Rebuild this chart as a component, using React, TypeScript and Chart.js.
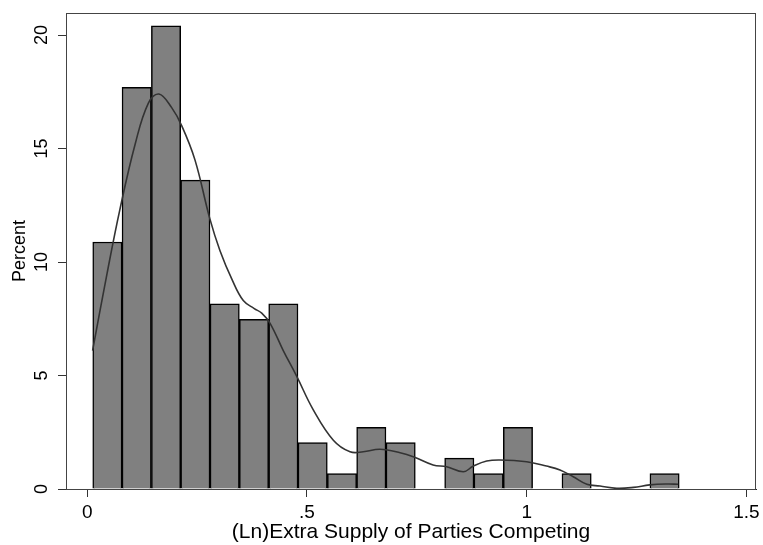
import React, { useEffect, useRef } from "react";
import { Chart, registerables } from "chart.js";

Chart.register(...registerables);

const binCenters = [0.0457, 0.1124, 0.1792, 0.2459, 0.3127, 0.3794, 0.4462, 0.5129, 0.5797, 0.6464, 0.7132, 0.7799, 0.8467, 0.9134, 0.9802, 1.0469, 1.1137, 1.1804, 1.2472, 1.3139];
const binPercents = [10.88, 17.69, 20.41, 13.61, 8.16, 7.48, 8.16, 2.04, 0.68, 2.72, 2.04, 0, 1.36, 0.68, 2.72, 0, 0.68, 0, 0, 0.68];

const kdeX = [0.012, 0.045, 0.074, 0.109, 0.139, 0.163, 0.192, 0.215, 0.245, 0.279, 0.302, 0.33, 0.355, 0.38, 0.397, 0.416, 0.446, 0.477, 0.514, 0.56, 0.598, 0.628, 0.666, 0.712, 0.745, 0.787, 0.818, 0.856, 0.878, 0.909, 0.939, 1.0, 1.045, 1.076, 1.106, 1.137, 1.167, 1.205, 1.243, 1.28, 1.319, 1.345];
const kdeY = [6.1, 9.5, 12.3, 15.2, 17.0, 17.4, 16.8, 16.0, 14.5, 11.9, 10.5, 9.2, 8.3, 7.95, 7.75, 7.3, 6.1, 4.95, 3.5, 2.15, 1.64, 1.64, 1.75, 1.6, 1.4, 1.06, 0.98, 0.76, 1.0, 1.23, 1.28, 1.2, 1.01, 0.84, 0.54, 0.21, 0.13, 0.03, 0.07, 0.18, 0.22, 0.21];

const xTicks = [0, 0.5, 1, 1.5];
const xTickLabels = ["0", ".5", "1", "1.5"];
const yTicks = [0, 5, 10, 15, 20];
const yTickLabels = ["0", "5", "10", "15", "20"];

const xTitle = "(Ln)Extra Supply of Parties Competing";
const yTitle = "Percent";

const FONT = "'Liberation Sans', Arial, sans-serif";

const framePlugin = {
  id: "frame",
  afterDraw(chart: any) {
    const { ctx, chartArea } = chart;
    ctx.save();
    ctx.strokeStyle = "#444";
    ctx.lineWidth = 1;
    ctx.strokeRect(chartArea.left + 0.5, chartArea.top + 0.5, chartArea.right - chartArea.left - 1, chartArea.bottom - chartArea.top);
    ctx.restore();
  },
};

export default function App() {
  const ref = useRef<HTMLCanvasElement | null>(null);

  useEffect(() => {
    if (!ref.current) return;
    const chart = new Chart(ref.current, {
      type: "bar",
      data: {
        datasets: [
          {
            type: "line",
            data: kdeX.map((x, i) => ({ x, y: kdeY[i] })),
            borderColor: "#333333",
            borderWidth: 1.6,
            pointRadius: 0,
            tension: 0.4,
            fill: false,
          } as any,
          {
            type: "bar",
            data: binCenters.map((x, i) => ({ x, y: binPercents[i] })),
            backgroundColor: "#808080",
            borderColor: "#000000",
            borderWidth: 1.5,
            barPercentage: 1,
            categoryPercentage: 1,
          } as any,
        ],
      },
      options: {
        animation: false,
        responsive: false,
        maintainAspectRatio: false,
        layout: { padding: { left: 0, right: 7, top: 13, bottom: 0 } },
        plugins: { legend: { display: false }, tooltip: { enabled: false } },
        scales: {
          x: {
            type: "linear",
            min: -0.0485,
            max: 1.522,
            offset: false,
            afterBuildTicks: (s: any) => {
              s.ticks = xTicks.map((v) => ({ value: v }));
            },
            afterFit: (s: any) => {
              s.height = 56;
              s.paddingLeft = 0;
              s.paddingRight = 0;
            },
            ticks: {
              callback: (v: any) => xTickLabels[xTicks.indexOf(Number(v))] ?? "",
              font: { family: FONT, size: 19 },
              color: "#000",
              padding: 4,
              maxRotation: 0,
              minRotation: 0,
            },
            grid: { drawOnChartArea: false, drawTicks: true, tickLength: 8, color: "#333", offset: false },
            border: { display: true, color: "#222" },
            title: {
              display: true,
              text: xTitle,
              font: { family: FONT, size: 21 },
              color: "#000",
              padding: { top: 0, bottom: 0 },
            },
          },
          y: {
            type: "linear",
            min: 0,
            max: 20.97,
            afterBuildTicks: (s: any) => {
              s.ticks = yTicks.map((v) => ({ value: v }));
            },
            afterFit: (s: any) => {
              s.width = 66;
              s.paddingTop = 0;
              s.paddingBottom = 0;
            },
            ticks: {
              callback: (v: any) => yTickLabels[yTicks.indexOf(Number(v))] ?? "",
              font: { family: FONT, size: 18 },
              color: "#000",
              padding: 6,
              minRotation: 90,
              maxRotation: 90,
              crossAlign: "center",
            },
            grid: { drawOnChartArea: false, drawTicks: true, tickLength: 8, color: "#333" },
            border: { display: true, color: "#222" },
            title: {
              display: true,
              text: yTitle,
              font: { family: FONT, size: 18 },
              color: "#000",
              padding: { top: 9, bottom: 0 },
            },
          },
        },
      },
      plugins: [framePlugin],
    } as any);
    return () => chart.destroy();
  }, []);

  return (
    <div style={{ position: "absolute", left: 0, top: 0, width: 763, height: 545, background: "#fff" }}>
      <canvas ref={ref} width={763} height={545} style={{ width: 763, height: 545, display: "block" }} />
    </div>
  );
}
